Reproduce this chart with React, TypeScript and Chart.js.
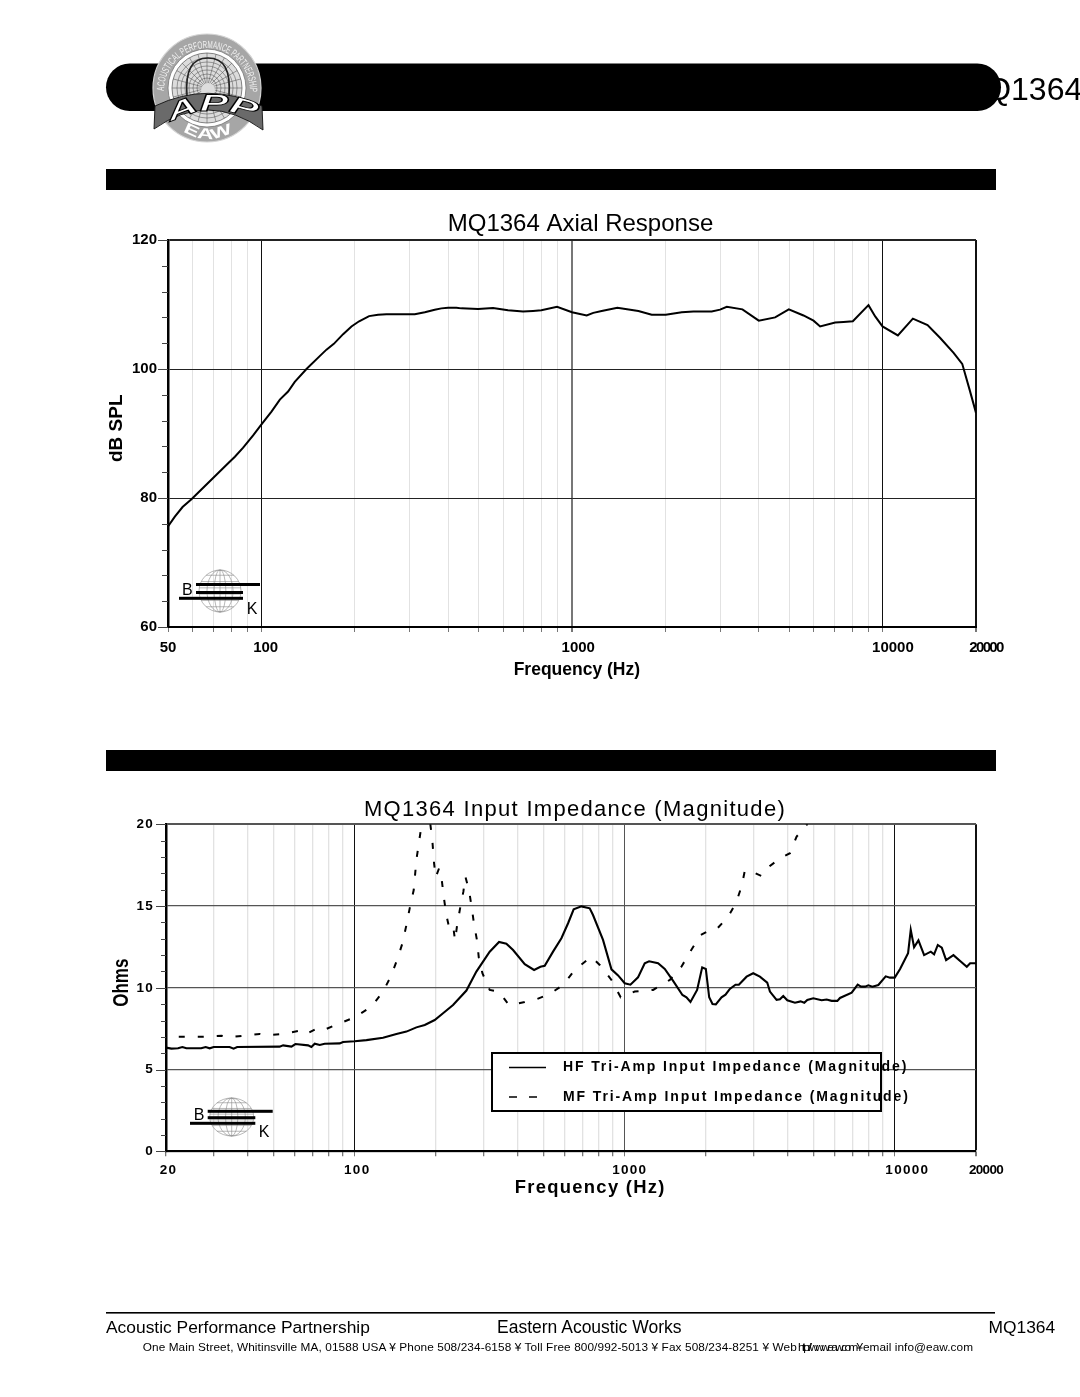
import React, { useEffect, useRef } from "react";
import { Chart, registerables } from "chart.js";

Chart.register(...registerables);

const FONT = '"Liberation Sans", Arial, sans-serif';

// ---------- Axial response ----------
const axialFreq = [50, 52.6, 55.7, 59.5, 64.9, 71.6, 78.1, 82.1, 87.3, 94, 100, 107.7, 114.6, 121.8, 128, 139.6, 154, 161.9, 171, 183.2, 194.9, 206.3, 222.1, 237.4, 252.6, 311.7, 335.7, 361.4, 379.7, 399, 424.4, 440.4, 498.4, 556.8, 584.9, 622.3, 695.5, 749, 796.8, 895.2, 1000, 1115, 1171, 1246, 1400, 1636, 1806, 2004, 2256, 2460, 2818, 2998, 3151, 3539, 3995, 4510, 4991, 5565, 5995, 6297, 7039, 7487, 8025, 9012, 9471, 10000, 11205, 12524, 13964, 15339, 16940, 18058, 19070, 20000];
const axialDb = [75.6, 77.1, 78.6, 79.8, 81.6, 83.6, 85.4, 86.4, 87.8, 89.7, 91.4, 93.4, 95.25, 96.5, 98, 100, 102, 103, 103.9, 105.4, 106.6, 107.4, 108.2, 108.4, 108.5, 108.5, 108.8, 109.2, 109.4, 109.5, 109.5, 109.4, 109.3, 109.45, 109.3, 109.1, 108.9, 109, 109.1, 109.65, 108.8, 108.3, 108.7, 109, 109.5, 109, 108.4, 108.4, 108.8, 108.9, 108.9, 109.2, 109.65, 109.25, 107.5, 108, 109.25, 108.3, 107.5, 106.6, 107.2, 107.3, 107.4, 109.9, 108.15, 106.6, 105.2, 107.8, 106.8, 104.8, 102.5, 100.8, 96.8, 93.2];
const axialTicks = [50, 60, 70, 80, 90, 100, 200, 300, 400, 500, 600, 700, 800, 900, 1000, 2000, 3000, 4000, 5000, 6000, 7000, 8000, 9000, 10000, 20000];
const axialLabels: Record<number, string> = { 50: "50", 100: "  100", 1000: "   1000", 10000: "     10000" };

// ---------- Input impedance ----------
const hfFreq = [20, 20.94, 22.16, 23, 23.8, 27, 28.05, 29.03, 30.04, 34.4, 35.6, 36.7, 52.7, 54.3, 58.3, 60.3, 67.2, 69.1, 71.1, 74.2, 77.4, 88, 90.5, 100, 110.5, 127.3, 142.7, 155.4, 169.2, 181.7, 197.8, 212.4, 231.3, 259.2, 282.2, 316.2, 342.4, 364.5, 385.9, 426.3, 461.6, 487.3, 505.4, 542.7, 582.8, 616.9, 647, 691, 742, 763, 831, 893, 945, 1000, 1050, 1120, 1186, 1231, 1329, 1407, 1511, 1636, 1693, 1752, 1854, 1936, 1997, 2055, 2114, 2175, 2283, 2362, 2451, 2572, 2647, 2827, 2991, 3167, 3371, 3450, 3651, 3757, 3865, 4000, 4270, 4482, 4624, 4744, 4993, 5362, 5596, 5841, 6130, 6271, 6928, 7292, 7503, 7763, 7987, 8264, 8697, 9259, 9609, 10000, 10467, 11205, 11464, 11795, 12240, 12850, 13600, 13990, 14440, 14940, 15500, 16500, 17470, 18490, 19025, 20000];
const hfOhms = [6.34, 6.28, 6.3, 6.38, 6.3, 6.3, 6.38, 6.3, 6.38, 6.38, 6.28, 6.38, 6.4, 6.48, 6.4, 6.56, 6.48, 6.38, 6.58, 6.5, 6.58, 6.6, 6.69, 6.73, 6.8, 6.95, 7.18, 7.32, 7.58, 7.73, 8.03, 8.44, 8.95, 9.83, 10.99, 12.21, 12.8, 12.7, 12.31, 11.44, 11.09, 11.29, 11.34, 12.21, 13.03, 13.95, 14.8, 14.98, 14.86, 14.45, 12.93, 11.13, 10.76, 10.28, 10.19, 10.64, 11.5, 11.62, 11.5, 11.15, 10.42, 9.56, 9.42, 9.13, 9.87, 11.25, 11.15, 9.42, 9.01, 8.99, 9.42, 9.58, 9.93, 10.19, 10.19, 10.68, 10.89, 10.68, 10.32, 9.77, 9.26, 9.3, 9.5, 9.24, 9.09, 9.17, 9.09, 9.26, 9.36, 9.24, 9.28, 9.2, 9.2, 9.38, 9.7, 10.19, 10.07, 10.07, 10.15, 10.07, 10.17, 10.7, 10.62, 10.62, 11.15, 12.11, 13.54, 12.48, 12.9, 12, 12.21, 12.05, 12.62, 12.46, 11.7, 12, 11.64, 11.29, 11.5, 11.5];
const mfFreq = [22.3, 26.7, 32.1, 34, 38.6, 44.5, 47.1, 55.8, 62.6, 65.8, 72.1, 75.9, 84.3, 100, 115.3, 127.3, 135.9, 143.5, 150.2, 155.4, 159.8, 165.4, 169.2, 173.1, 177, 183, 190.6, 194, 196.8, 199.5, 205.2, 209.4, 213.6, 218.5, 223.6, 231.3, 235.3, 239.3, 245.5, 252.6, 257, 265.2, 271.2, 276.7, 283.9, 288, 297.1, 316.2, 340.6, 349.4, 373, 426.3, 470.8, 527.5, 590.9, 652.9, 752, 808, 893, 966, 1089, 1274, 1469, 1622, 1757, 1913, 2114, 2200, 2416, 2580, 2708, 2786, 2867, 3212, 3450, 3757, 4092, 4332, 4718, 4993];
const mfOhms = [7, 7, 7.07, 6.97, 7.07, 7.18, 7.1, 7.2, 7.38, 7.16, 7.5, 7.38, 7.7, 8.2, 8.85, 9.77, 10.68, 11.7, 12.72, 13.84, 14.86, 15.98, 17.82, 18.94, 20, 20.7, 20, 18.94, 17.6, 16.76, 17.3, 16.8, 15.58, 14.45, 13.7, 13.84, 12.88, 13.8, 14.84, 15.88, 16.8, 15.94, 14.92, 13.88, 12.88, 11.87, 10.89, 9.87, 9.77, 9.56, 8.93, 9.13, 9.3, 9.62, 10.17, 11.09, 11.9, 11.4, 10.48, 9.42, 9.77, 9.87, 10.48, 11.29, 12.27, 13.23, 13.62, 13.62, 14.35, 15.17, 16.19, 17.17, 17.19, 16.84, 17.45, 17.92, 18.23, 19.25, 19.96, 20.9];
const impTicks = [20, 30, 40, 50, 60, 70, 80, 90, 100, 200, 300, 400, 500, 600, 700, 800, 900, 1000, 2000, 3000, 4000, 5000, 6000, 7000, 8000, 9000, 10000, 20000];
const impLabels: Record<number, string> = { 20: " 20", 100: " 100", 1000: "  1000", 10000: "     10000" };
const hfLabel = "HF Tri-Amp Input Impedance (Magnitude)";
const mfLabel = "MF Tri-Amp Input Impedance (Magnitude)";

const zip = (xs: number[], ys: number[]) => xs.map((x, i) => ({ x, y: ys[i] }));

// An empty axis on the right, so the chart title centres over the whole canvas
const rightGutter = {
  position: "right",
  min: 0,
  max: 1,
  afterFit: (s: any) => { s.width = 104; },
  border: { display: false },
  grid: { display: false },
  ticks: { display: false },
};

// Long/short tick marks on the left axis, and the last crowded x label
const axisMarks = (id: string, cfg: { major: number; long: number; short: number; labelFont: string; labelY: number; labelDx: number; spacing: string }) => ({
  id,
  afterDatasetsDraw(chart: any) {
    const { ctx } = chart;
    const y = chart.scales.y;
    const x = chart.scales.x;
    ctx.save();
    ctx.strokeStyle = "#444";
    ctx.lineWidth = 1;
    y.ticks.forEach((t: any) => {
      const py = Math.round(y.getPixelForValue(t.value)) + 0.5;
      const len = t.value % cfg.major === 0 ? cfg.long : cfg.short;
      ctx.beginPath();
      ctx.moveTo(x.left, py);
      ctx.lineTo(x.left - len, py);
      ctx.stroke();
    });
    ctx.font = cfg.labelFont;
    ctx.letterSpacing = cfg.spacing;
    ctx.fillStyle = "#000";
    ctx.textAlign = "center";
    ctx.textBaseline = "middle";
    ctx.fillText("20000", x.getPixelForValue(20000) + cfg.labelDx, y.bottom + cfg.labelY);
    ctx.restore();
  },
});

const wide = (spacing: string) => ({
  id: "wideText",
  beforeDraw(chart: any) {
    chart.ctx.letterSpacing = spacing;
  },
});

const IMP_LEFT = 70;
const IMP_TOP = 797;

const ohmsTitle = {
  id: "ohmsTitle",
  afterDraw(chart: any) {
    const { ctx } = chart;
    ctx.save();
    ctx.letterSpacing = "0px";
    ctx.translate(122 - IMP_LEFT, 982.7 - IMP_TOP);
    ctx.rotate(-Math.PI / 2);
    ctx.scale(1, 1.25);
    ctx.font = `bold 17px ${FONT}`;
    ctx.fillStyle = "#000";
    ctx.textAlign = "center";
    ctx.textBaseline = "middle";
    ctx.fillText("Ohms", 0, 0);
    ctx.restore();
  },
};

const impLegend = {
  id: "impLegend",
  afterDraw(chart: any) {
    const { ctx, data } = chart;
    const [ox, oy] = [IMP_LEFT, IMP_TOP];
    ctx.save();
    ctx.fillStyle = "#fff";
    ctx.fillRect(492 - ox, 1053 - oy, 389, 58);
    ctx.strokeStyle = "#000";
    ctx.lineWidth = 2;
    ctx.strokeRect(492 - ox, 1053 - oy, 389, 58);
    const rows = [1067.5, 1097];
    data.datasets.forEach((d: any, i: number) => {
      ctx.strokeStyle = "#000";
      ctx.lineWidth = 1.3;
      ctx.setLineDash(i === 0 ? [] : [8, 12]);
      ctx.beginPath();
      ctx.moveTo(509 - ox, rows[i] - oy);
      ctx.lineTo(546 - ox, rows[i] - oy);
      ctx.stroke();
      ctx.setLineDash([]);
      ctx.fillStyle = "#000";
      ctx.font = `bold 14px ${FONT}`;
      ctx.letterSpacing = "1.88px";
      ctx.textAlign = "left";
      ctx.textBaseline = "middle";
      ctx.fillText(d.label, 563 - ox, rows[i] - oy);
    });
    ctx.restore();
  },
};

function axialConfig(): any {
  return {
    type: "line",
    data: {
      datasets: [{ label: "MQ1364 Axial Response", data: zip(axialFreq, axialDb), borderColor: "#000", borderWidth: 2, pointRadius: 0, tension: 0, fill: false }],
    },
    plugins: [axisMarks("axialMarks", { major: 20, long: 10, short: 6, labelFont: `bold 15px ${FONT}`, labelY: 21, labelDx: 10, spacing: "-1.6px" })],
    options: {
      animation: false,
      responsive: false,
      devicePixelRatio: 1,
      layout: { padding: 0 },
      plugins: {
        legend: { display: false },
        tooltip: { enabled: false },
        title: { display: true, text: "MQ1364 Axial Response", color: "#000", font: { family: FONT, size: 24, weight: "normal" }, padding: { top: 0, bottom: 1.2 } },
      },
      scales: {
        x: {
          type: "logarithmic",
          min: 50,
          max: 20000,
          afterFit: (s: any) => { s.height = 73; },
          afterBuildTicks: (s: any) => { s.ticks = axialTicks.map((value) => ({ value })); },
          border: { color: "#000", width: 2 },
          grid: {
            color: (c: any) => ([100, 10000, 20000].includes(c.tick?.value) ? "#111" : c.tick?.value === 1000 ? "#777" : "#e2e2e2"),
            lineWidth: (c: any) => (c.tick?.value === 1000 || c.tick?.value === 20000 ? 2 : 1),
            tickColor: "#777",
            tickLength: 5,
          },
          ticks: {
            autoSkip: false,
            maxRotation: 0,
            minRotation: 0,
            padding: 7,
            color: "#000",
            font: { family: FONT, size: 15, weight: "bold" },
            callback: (v: number) => axialLabels[v] ?? "",
          },
          title: { display: true, text: "  Frequency (Hz)", color: "#000", font: { family: FONT, size: 17.5, weight: "bold" }, padding: { top: 0, bottom: 19 } },
        },
        y: {
          min: 60,
          max: 120,
          afterFit: (s: any) => { s.width = 87; },
          afterBuildTicks: (s: any) => { s.ticks = [60, 64, 68, 72, 76, 80, 84, 88, 92, 96, 100, 104, 108, 112, 116, 120].map((value) => ({ value })); },
          border: { color: "#000", width: 2.5 },
          grid: {
            color: (c: any) => (c.tick?.value % 20 === 0 ? "#222" : "transparent"),
            lineWidth: (c: any) => (c.tick?.value === 120 ? 2 : 1),
            drawTicks: false,
          },
          ticks: {
            autoSkip: false,
            padding: 11,
            color: "#000",
            font: { family: FONT, size: 15, weight: "bold" },
            callback: (v: number) => (v % 20 === 0 ? String(v) : ""),
          },
          title: { display: true, text: "  dB SPL", color: "#000", font: { family: FONT, size: 19, weight: "bold" }, padding: { top: 24.6, bottom: 0 } },
        },
        gutter: rightGutter,
      },
    },
  };
}

function impConfig(): any {
  return {
    type: "line",
    data: {
      datasets: [
        { label: hfLabel, data: zip(hfFreq, hfOhms), borderColor: "#000", borderWidth: 2.1, pointRadius: 0, tension: 0, fill: false },
        { label: mfLabel, data: zip(mfFreq, mfOhms), borderColor: "#000", borderWidth: 2, borderDash: [6, 13], pointRadius: 0, tension: 0, fill: false },
      ],
    },
    plugins: [
      wide("1.3px"),
      axisMarks("impMarks", { major: 5, long: 10, short: 5, labelFont: `bold 13.5px ${FONT}`, labelY: 19, labelDx: 10, spacing: "-0.7px" }),
      ohmsTitle,
      impLegend,
    ],
    options: {
      animation: false,
      responsive: false,
      devicePixelRatio: 1,
      layout: { padding: 0 },
      plugins: {
        legend: { display: false },
        tooltip: { enabled: false },
        title: { display: true, text: "MQ1364 Input Impedance (Magnitude)", color: "#000", font: { family: FONT, size: 22, weight: "normal" }, padding: { top: 0, bottom: 0.9 } },
      },
      scales: {
        x: {
          type: "logarithmic",
          min: 20,
          max: 20000,
          afterFit: (s: any) => { s.height = 58.7; },
          afterBuildTicks: (s: any) => { s.ticks = impTicks.map((value) => ({ value })); },
          border: { color: "#000", width: 2 },
          grid: {
            color: (c: any) => (c.tick?.value === 100 || c.tick?.value === 10000 || c.tick?.value === 20000 ? "#111" : c.tick?.value === 1000 ? "#555" : "#e2e2e2"),
            lineWidth: (c: any) => (c.tick?.value === 20000 ? 2 : c.tick?.value === 100 || c.tick?.value === 1000 || c.tick?.value === 10000 ? 1 : 1.3),
            tickColor: "#777",
            tickLength: 5,
          },
          ticks: {
            autoSkip: false,
            maxRotation: 0,
            minRotation: 0,
            padding: 6,
            color: "#000",
            font: { family: FONT, size: 13.5, weight: "bold" },
            callback: (v: number) => impLabels[v] ?? "",
          },
          title: { display: true, text: "      Frequency (Hz)", color: "#000", font: { family: FONT, size: 18.4, weight: "bold" }, padding: { top: 0, bottom: 11 } },
        },
        y: {
          min: 0,
          max: 20,
          afterFit: (s: any) => { s.width = 96; },
          afterBuildTicks: (s: any) => { s.ticks = Array.from({ length: 21 }, (_, value) => ({ value })); },
          border: { color: "#000", width: 2.5 },
          grid: {
            color: (c: any) => (c.tick?.value % 5 === 0 ? "#555" : "transparent"),
            lineWidth: (c: any) => (c.tick?.value === 20 ? 2 : 1.2),
            drawTicks: false,
          },
          ticks: {
            autoSkip: false,
            padding: 12,
            color: "#000",
            font: { family: FONT, size: 13.5, weight: "bold" },
            callback: (v: number) => (v % 5 === 0 ? String(v) : ""),
          },
        },
        gutter: rightGutter,
      },
    },
  };
}

function useChart(config: () => any) {
  const ref = useRef<HTMLCanvasElement>(null);
  useEffect(() => {
    const chart = new Chart(ref.current as HTMLCanvasElement, config());
    return () => chart.destroy();
  }, []);
  return ref;
}

const BKLogo = ({ cx, cy, rx, ry, bars, b, k }: any) => (
  <g>
    <g fill="none" stroke="#888" strokeWidth="0.6">
      <ellipse cx={cx} cy={cy} rx={rx} ry={ry} />
      <ellipse cx={cx} cy={cy} rx={rx * 0.62} ry={ry} />
      <ellipse cx={cx} cy={cy} rx={rx * 0.28} ry={ry} />
      <line x1={cx} y1={cy - ry} x2={cx} y2={cy + ry} />
      {[-0.75, -0.45, -0.15, 0.15, 0.45, 0.75].map((f) => (
        <line key={f} x1={cx - rx * Math.sqrt(1 - f * f)} y1={cy + ry * f} x2={cx + rx * Math.sqrt(1 - f * f)} y2={cy + ry * f} />
      ))}
    </g>
    {bars.map((r: number[], i: number) => (
      <rect key={i} x={r[0]} y={r[2] - 1.5} width={r[1] - r[0]} height={3} fill="#000" />
    ))}
    <text x={b[0]} y={b[1]} fontSize="16" textAnchor="middle" fontFamily={FONT}>B</text>
    <text x={k[0]} y={k[1]} fontSize="16" textAnchor="middle" fontFamily={FONT}>K</text>
  </g>
);

const AppLogo = () => {
  const cx = 207;
  const cy = 88;
  return (
    <g>
      <defs>
        <clipPath id="logoInner"><circle cx={cx} cy={cy} r={35} /></clipPath>
        <path id="ringPath" d={`M ${cx - 43} ${cy + 3} A 43 43 0 0 1 ${cx + 43} ${cy + 3}`} />
        <path id="appPath" d="M 171 123 Q 208 100 259 121" />
        <path id="eawPath" d="M 183 131 Q 208 147 236 130" />
      </defs>
      <circle cx={cx} cy={cy} r={54} fill="#a6a6a6" stroke="#d4d4d4" strokeWidth="1.2" />
      <text fontFamily={FONT} fontSize="10.5" fill="#f0f0f0">
        <textPath href="#ringPath" textLength={136} lengthAdjust="spacingAndGlyphs">ACOUSTICAL PERFORMANCE PARTNERSHIP</textPath>
      </text>
      <circle cx={cx} cy={cy} r={39} fill="#fff" stroke="#777" strokeWidth="0.8" />
      <circle cx={cx} cy={cy} r={35} fill="#dcdcdc" stroke="#666" strokeWidth="0.8" />
      <g clipPath="url(#logoInner)" fill="none" stroke="#555" strokeWidth="0.55">
        {[10, 14, 18, 22, 26, 30].map((r) => <circle key={r} cx={cx} cy={cy} r={r} />)}
        {Array.from({ length: 24 }, (_, i) => i * 15).map((a) => (
          <line key={a} x1={cx} y1={cy} x2={cx + 36 * Math.cos((a * Math.PI) / 180)} y2={cy + 36 * Math.sin((a * Math.PI) / 180)} />
        ))}
      </g>
      <path d="M 187 96 C 185 70 192 58 208 58 C 224 58 231 70 229 96" fill="none" stroke="#222" strokeWidth="1.6" />
      <circle cx={208} cy={90} r={7} fill="#ddd" />
      <path d="M 155 106 Q 208 80.6 262 106 L 263 130 Q 208 90.5 154 129 Z" fill="#6a6a6a" stroke="#111" strokeWidth="0.9" />
      <text fontFamily={FONT} fontSize="24" fontWeight="bold" fontStyle="italic" fill="#fff" stroke="#000" strokeWidth="0.9">
        <textPath href="#appPath" textLength={88} lengthAdjust="spacingAndGlyphs">APP</textPath>
      </text>
      <text fontFamily={FONT} fontSize="15" fontWeight="bold" fill="#fff">
        <textPath href="#eawPath" textLength={52} lengthAdjust="spacingAndGlyphs">EAW</textPath>
      </text>
    </g>
  );
};

export default function App() {
  const axialRef = useChart(axialConfig);
  const impRef = useChart(impConfig);
  return (
    <div style={{ position: "absolute", left: 0, top: 0, width: 1080, height: 1397, overflow: "hidden", background: "#fff" }}>
      <canvas ref={axialRef} width={999} height={490} style={{ position: "absolute", left: 81, top: 210 }} />
      <canvas ref={impRef} width={1010} height={413} style={{ position: "absolute", left: IMP_LEFT, top: IMP_TOP }} />
      <svg width={1080} height={1397} style={{ position: "absolute", left: 0, top: 0, pointerEvents: "none" }}>
        <text x={959.5} y={99.5} fontFamily={FONT} fontSize="32" fill="#000">MQ1364</text>
        <rect x={106} y={63.5} width={895} height={47.5} rx={23.7} fill="#000" />
        <AppLogo />
        <rect x={106} y={169} width={890} height={21} fill="#000" />
        <rect x={106} y={750} width={890} height={21} fill="#000" />

        <BKLogo cx={220} cy={591} rx={21} ry={21} bars={[[196, 260, 584.5], [196, 243, 592.5], [179, 243, 598.3]]} b={[187.3, 594.8]} k={[252, 614]} />
        <BKLogo cx={231.7} cy={1117} rx={22} ry={19} bars={[[207.7, 272.7, 1111.3], [207.7, 255.3, 1117.7], [190, 255.3, 1123.3]]} b={[199, 1119.5]} k={[264, 1137]} />

        <rect x={106} y={1312} width={889} height={1.6} fill="#000" />
        <text x={106} y={1333.3} fontFamily={FONT} fontSize="17.4">Acoustic Performance Partnership</text>
        <text x={497} y={1333.3} fontFamily={FONT} fontSize="17.5">Eastern Acoustic Works</text>
        <text x={988.5} y={1333.3} fontFamily={FONT} fontSize="17.4">MQ1364</text>
        <text x={142.7} y={1350.7} fontFamily={FONT} fontSize="11.8" textLength={654} lengthAdjust="spacing">One Main Street, Whitinsville MA, 01588 USA ¥ Phone 508/234-6158 ¥ Toll Free 800/992-5013 ¥ Fax 508/234-8251 ¥ Web</text>
        <text x={798} y={1350.7} fontFamily={FONT} fontSize="11.8" textLength={65} lengthAdjust="spacing">http://www.eaw.com ¥</text>
        <text x={863} y={1350.7} fontFamily={FONT} fontSize="11.8" textLength={110} lengthAdjust="spacing">email info@eaw.com</text>
      </svg>
    </div>
  );
}
